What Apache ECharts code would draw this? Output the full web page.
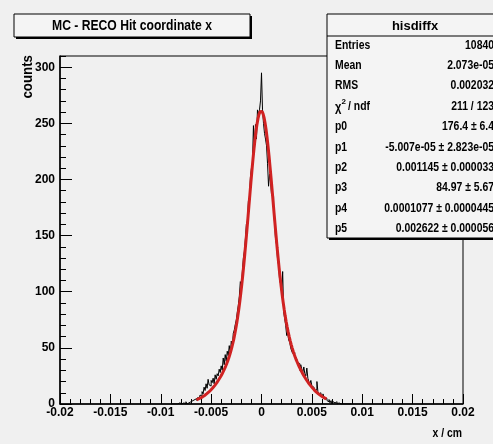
<!DOCTYPE html>
<html>
<head>
<meta charset="utf-8">
<script src="https://cdn.jsdelivr.net/npm/echarts/dist/echarts.min.js"></script>
<style>
html,body{margin:0;padding:0;background:#f0f0f0;}
#chart{width:493px;height:444px;}
</style>
</head>
<body>
<div id="chart"></div>
<script>
// ---- data ----
const chartTitle = 'MC - RECO Hit coordinate x';
const xTitle = 'x / cm';
const yTitle = 'counts';
const histName = 'hisdiffx';
// histogram: bins of width 0.0001 starting at -0.009
const histLow = -0.009;
const histBinWidth = 0.0001;
const counts = [
  0,0,0,0,0,0,0,0,1,0, 0,0,1,0,0,2,0,1,0,2, 1,3,2,4,3,
  5,3,6,4,8,7,11,9,15,12,
  18,14,22,17,16,21,19,23,18,26,
  22,27,25,31,28,34,30,41,35,44,
  38,47,43,52,45,56,51,63,66,71,
  75,82,88,96,109,104,118,130,136,147,
  160,163,181,184,202,210,214,248,227,249,
  236,262,258,262,270,295,262,250,241,236,
  230,214,194,205,198,186,185,175,161,146,
  142,128,124,110,107,99,118,82,76,70,
  61,63,57,55,50,47,45,46,44,42,
  40,37,36,30,35,31,28,33,27,25,
  32,23,20,18,21,16,15,14,12,13,
  20,11,9,10,8,7,9,6,4,5,
  3,2,4,1,3,0,2,1,0,2, 0,1,0,0,1,0,0,0,1,0, 0,0,0,0,0
];
// fitted curve, sampled at bin centres from -0.00645 to 0.00645
const fitLow = -0.0065;
const fitValues = [
  3.7,4.1,4.5,4.9,5.4,5.9,6.4,7.0,7.6,8.3,
  9.0,9.7,10.5,11.4,12.3,13.3,14.2,15.3,16.4,17.6,
  18.8,20.2,21.6,23.1,24.5,26.2,27.9,29.8,31.7,33.8,
  36.0,38.4,40.9,43.8,46.9,50.2,53.9,57.8,62.3,67.2,
  72.4,78.3,84.6,91.4,99.0,107.0,115.6,124.7,134.3,144.4,
  154.7,165.4,176.2,186.9,197.6,207.8,217.7,226.8,235.3,242.7,
  249.1,254.2,257.9,260.3,261.2,260.7,258.7,255.4,250.6,244.7,
  237.6,229.5,220.7,211.1,201.2,190.9,180.4,169.9,159.5,149.3,
  139.4,130.1,121.1,112.6,104.8,97.4,90.6,84.4,78.5,73.3,
  68.5,64.0,60.1,56.3,52.9,49.8,46.8,44.2,41.7,39.3,
  37.2,35.1,33.1,31.2,29.5,27.7,26.1,24.5,23.1,21.6,
  20.2,18.9,17.7,16.6,15.5,14.4,13.4,12.4,11.5,10.6,
  9.8,9.1,8.4,7.7,7.1,6.5,6.0,5.5,5.0,4.6
];
const xMin = -0.02, xMax = 0.02, xStep = 0.005;
const yMin = 0, yMax = 310, yStep = 50, yMinorStep = 10;
const statLabels = ['Entries','Mean','RMS','CHI2','p0','p1','p2','p3','p4','p5'];
const statValues = ['10840','2.073e-05','0.002032','211 / 123','176.4 \u00b1 6.4',
  '-5.007e-05 \u00b1 2.823e-05','0.001145 \u00b1 0.000033','84.97 \u00b1 5.67',
  '0.0001077 \u00b1 0.0000445','0.002622 \u00b1 0.000056'];

// ---- build ----
const histData = counts.map((c, i) => [histLow + (i + 0.5) * histBinWidth, c]);
const fitData = fitValues.map((v, i) => [fitLow + (i + 0.5) * histBinWidth, v]);

const FONT = '"Liberation Sans", Arial, sans-serif';
const graphic = [];
// title box
graphic.push({type:'rect', shape:{x:16,y:16,width:236,height:23}, style:{fill:'#000'}, z:100});
graphic.push({type:'rect', shape:{x:14,y:14,width:236,height:23}, style:{fill:'#f4f4f4',stroke:'#000',lineWidth:1}, z:101});
graphic.push({type:'text', x:132, y:26, scaleX:0.81, z:102,
  style:{text:chartTitle, font:'bold 15px ' + FONT, fill:'#000', align:'center', verticalAlign:'middle'}});
// stats box
graphic.push({type:'rect', shape:{x:329,y:16,width:176,height:224}, style:{fill:'#000'}, z:100});
graphic.push({type:'rect', shape:{x:327,y:14,width:176,height:224}, style:{fill:'#f4f4f4',stroke:'#000',lineWidth:1}, z:101});
graphic.push({type:'line', shape:{x1:327,y1:36,x2:503,y2:36}, style:{stroke:'#000',lineWidth:1}, z:102});
graphic.push({type:'text', x:415, y:26, z:102,
  style:{text:histName, font:'bold 13px ' + FONT, fill:'#000', align:'center', verticalAlign:'middle'}});
statLabels.forEach((lab, i) => {
  const y = 45 + 20.4 * i;
  if (lab === 'CHI2') {
    graphic.push({type:'text', x:335, y:y+1, scaleX:0.85, z:102,
      style:{text:'\u03c7', font:'bold 13px ' + FONT, fill:'#000', align:'left', verticalAlign:'middle'}});
    graphic.push({type:'text', x:341.5, y:y-4, z:102,
      style:{text:'2', font:'bold 8px ' + FONT, fill:'#000', align:'left', verticalAlign:'middle'}});
    graphic.push({type:'text', x:348, y:y, scaleX:0.8, z:102,
      style:{text:'/ ndf', font:'bold 13px ' + FONT, fill:'#000', align:'left', verticalAlign:'middle'}});
  } else {
    graphic.push({type:'text', x:335, y:y, scaleX:0.8, z:102,
      style:{text:lab, font:'bold 13px ' + FONT, fill:'#000', align:'left', verticalAlign:'middle'}});
  }
  graphic.push({type:'text', x:494, y:y, scaleX:0.8, z:102,
    style:{text:statValues[i], font:'bold 13px ' + FONT, fill:'#000', align:'right', verticalAlign:'middle'}});
});
// axis titles
graphic.push({type:'text', x:462, y:433, scaleX:0.8, z:50,
  style:{text:xTitle, font:'bold 13px ' + FONT, fill:'#000', align:'right', verticalAlign:'middle'}});
graphic.push({type:'text', x:28, y:55, rotation:Math.PI/2, scaleX:0.95, z:50,
  style:{text:yTitle, font:'bold 14px ' + FONT, fill:'#000', align:'right', verticalAlign:'middle'}});

const fmt = v => String(+v.toFixed(4));
const chart = echarts.init(document.getElementById('chart'), null, {renderer:'canvas'});
chart.setOption({
  animation:false,
  backgroundColor:'#f0f0f0',
  grid:{left:60, right:30, top:56, bottom:40, show:true, borderColor:'#000', borderWidth:1, backgroundColor:'transparent'},
  xAxis:{
    type:'value', min:xMin, max:xMax, interval:xStep,
    axisLine:{onZero:false, lineStyle:{color:'#000', width:1.5}},
    axisTick:{inside:true, length:10, lineStyle:{color:'#000', width:1}},
    minorTick:{show:true, splitNumber:5, length:5, lineStyle:{color:'#000', width:1}},
    axisLabel:{margin:3, color:'#000', fontSize:12, fontWeight:'bold', fontFamily:FONT, formatter:fmt},
    splitLine:{show:false}, minorSplitLine:{show:false}
  },
  yAxis:[{
    type:'value', min:yMin, max:yMax, interval:yStep,
    axisLine:{show:true, onZero:false, lineStyle:{color:'#000', width:1.5}},
    axisTick:{inside:true, length:12, lineStyle:{color:'#000', width:1}},
    axisLabel:{margin:5, color:'#000', fontSize:12, fontWeight:'bold', fontFamily:FONT, showMaxLabel:false},
    splitLine:{show:false}
  },{
    type:'value', min:yMin, max:yMax, interval:yMinorStep, position:'left', offset:0,
    axisLine:{show:false, onZero:false},
    axisTick:{show:true, inside:true, length:6, lineStyle:{color:'#000', width:1}},
    axisLabel:{show:false}, splitLine:{show:false}
  }],
  series:[{
    type:'line', name:histName, data:histData, step:'middle', showSymbol:false, symbol:'none',
    lineStyle:{color:'#000', width:1}, z:2, silent:true
  },{
    type:'line', name:'fit', data:fitData, showSymbol:false, symbol:'none', smooth:false,
    lineStyle:{color:'#d02222', width:3}, z:3, silent:true
  }],
  graphic:graphic
});
</script>
</body>
</html>
